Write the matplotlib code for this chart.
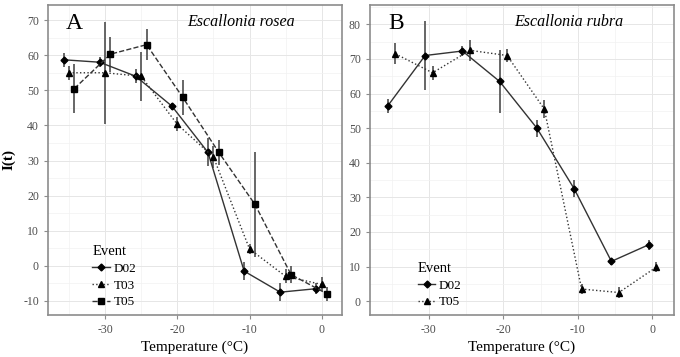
import numpy as np
import matplotlib
matplotlib.use("Agg")
import matplotlib.pyplot as plt
from matplotlib.ticker import MultipleLocator

plt.rcParams['font.family'] = ['Liberation Serif', 'DejaVu Serif']
plt.rcParams['axes.unicode_minus'] = False

temps = np.array([-35, -30, -25, -20, -15, -10, -5, 0])

# Panel A: Escallonia rosea
a_d02 = [58.7, 58.0, 54.0, 45.5, 32.3, -1.5, -7.5, -6.5]
a_d02_err = [2.0, 1.5, 2.0, 1.0, 4.0, 2.5, 2.5, 1.5]
a_t03 = [55.0, 55.0, 54.0, 40.3, 31.0, 4.8, -3.0, -5.3]
a_t03_err = [2.0, 14.5, 7.0, 2.0, 3.0, 1.5, 2.0, 2.0]
a_t05 = [50.5, 60.3, 63.0, 48.0, 32.3, 17.5, -2.5, -8.0]
a_t05_err = [7.0, 5.0, 4.5, 5.0, 3.5, 15.0, 2.5, 2.0]

# Panel B: Escallonia rubra
b_d02 = [56.5, 71.0, 72.3, 63.5, 50.0, 32.5, 11.5, 16.3]
b_d02_err = [2.0, 10.0, 1.5, 9.0, 2.5, 2.5, 1.0, 1.5]
b_t05 = [71.5, 66.0, 72.5, 71.0, 55.5, 3.5, 2.5, 9.8]
b_t05_err = [3.0, 2.0, 3.0, 2.0, 2.5, 1.5, 1.5, 1.5]

line_col = '#333333'
err_col = '#5a5a5a'
frame_col = '#8c8c8c'

fig = plt.figure(figsize=(6.8, 3.57), dpi=100)
axA = fig.add_axes([48/680, 1-315/357, (342-48)/680, 310/357])
axB = fig.add_axes([370/680, 1-315/357, (674-370)/680, 310/357])


def draw(ax, y, err, dx, marker, ls, label, ms):
    x = temps + dx
    ax.errorbar(x, y, yerr=err, fmt='none', ecolor=err_col, elinewidth=1.3, capsize=0, zorder=2)
    ax.plot(x, y, color=line_col, linestyle=ls, linewidth=1.0, marker=marker,
            markersize=ms, markerfacecolor='black', markeredgecolor='black', label=label, zorder=3)


def style(ax):
    ax.set_facecolor('white')
    ax.xaxis.set_major_locator(MultipleLocator(10))
    ax.xaxis.set_minor_locator(MultipleLocator(5))
    ax.yaxis.set_major_locator(MultipleLocator(10))
    ax.yaxis.set_minor_locator(MultipleLocator(5))
    ax.grid(which='major', color='#e6e6e6', linewidth=0.7)
    ax.grid(which='minor', color='#f2f2f2', linewidth=0.5)
    ax.set_axisbelow(True)
    for s in ax.spines.values():
        s.set_color(frame_col)
        s.set_linewidth(1.2)
    ax.tick_params(which='major', direction='out', length=3, color=frame_col,
                   labelcolor='#4d4d4d', labelsize=8.5)
    ax.tick_params(which='minor', length=0)
    ax.set_xlabel('Temperature (°C)', fontsize=11, labelpad=3)


draw(axA, a_d02, a_d02_err, -0.75, 'D', '-', 'D02', 3.5)
draw(axA, a_t03, a_t03_err, 0.0, '^', ':', 'T03', 4.2)
draw(axA, a_t05, a_t05_err, 0.75, 's', '--', 'T05', 4.2)
axA.set_xlim(-37.9, 2.8)
axA.set_ylim(-14, 74.3)
style(axA)
axA.set_ylabel('I(t)', fontsize=11, fontweight='bold')
axA.yaxis.set_label_coords(-0.112, 0.5)
axA.text(0.06, 0.94, 'A', transform=axA.transAxes, fontsize=17, va='center', ha='left')
axA.text(0.655, 0.945, 'Escallonia rosea', transform=axA.transAxes, fontsize=11.5,
         style='italic', va='center', ha='center')
legA = axA.legend(title='Event', loc='lower left', bbox_to_anchor=(0.115, -0.013), frameon=False,
                  fontsize=9.5, title_fontsize=10.5, handlelength=1.3, handletextpad=0.3,
                  labelspacing=0.35, borderpad=0.3)
legA._legend_box.align = 'left'

draw(axB, b_d02, b_d02_err, -0.5, 'D', '-', 'D02', 3.5)
draw(axB, b_t05, b_t05_err, 0.5, '^', ':', 'T05', 4.2)
axB.set_xlim(-37.9, 2.9)
axB.set_ylim(-4, 85.6)
style(axB)
axB.text(0.06, 0.94, 'B', transform=axB.transAxes, fontsize=17, va='center', ha='left')
axB.text(0.655, 0.945, 'Escallonia rubra', transform=axB.transAxes, fontsize=11.5,
         style='italic', va='center', ha='center')
legB = axB.legend(title='Event', loc='lower left', bbox_to_anchor=(0.123, -0.013), frameon=False,
                  fontsize=9.5, title_fontsize=10.5, handlelength=1.3, handletextpad=0.3,
                  labelspacing=0.35, borderpad=0.3)
legB._legend_box.align = 'left'

fig.savefig('out.png', dpi=100)
